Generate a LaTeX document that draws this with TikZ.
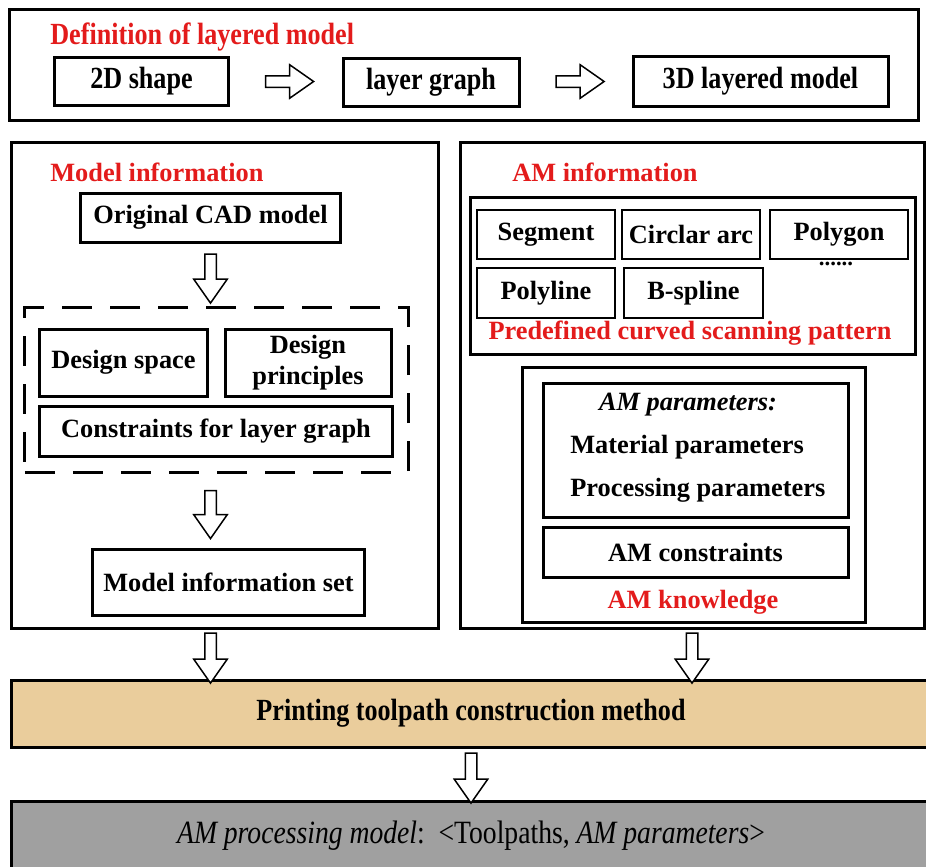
\documentclass[tikz,border=0pt]{standalone}
\usepackage{fontspec}
\setmainfont{Liberation Serif}
\newfontfamily\narrowfont[FakeStretch=0.85]{Liberation Serif}
\usetikzlibrary{shapes.arrows,calc}
\definecolor{titleRed}{HTML}{E31B1B}
\definecolor{methodTan}{HTML}{EACD9C}
\definecolor{modelGray}{HTML}{A0A0A0}

\begin{document}
\begin{tikzpicture}[x=0.2mm, y=-0.2mm,
  frame/.style={rectangle, draw, line width=0.6mm},
  box/.style={rectangle, draw, line width=0.6mm, align=center, font=\bfseries\fontsize{15}{17.5}\selectfont},
  wide/.style={rectangle, draw, line width=0.6mm, align=center, font=\narrowfont\bfseries\fontsize{17.5}{20}\selectfont},
  pat/.style={rectangle, draw, line width=0.35mm, minimum width=27.6mm, minimum height=9.8mm, font=\bfseries\fontsize{15}{17.5}\selectfont},
  title/.style={text=titleRed, inner sep=0pt, font=\bfseries\fontsize{15}{17.5}\selectfont},
  plain/.style={inner sep=0pt, font=\bfseries\fontsize{15}{17.5}\selectfont},
  harrow/.style={single arrow, draw, line width=0.3mm, fill=white, inner sep=1mm, single arrow head extend=2.2mm, single arrow tip angle=70, minimum width=0pt, minimum height=#1}
]
\useasboundingbox (0,0) rectangle (926,867);

% definition of layered model
\node[frame, minimum width=181.6mm, minimum height=22mm] (defbox) at (464,65) {};
\node[title, anchor=west, font=\narrowfont\bfseries\fontsize{17.5}{20}\selectfont] (deftitle) at (50,37) {Definition of layered model};
\node[wide, minimum width=34.6mm, minimum height=9.6mm] (shape2d) at (141.5,81) {2D shape};
\node[wide, minimum width=35.2mm, minimum height=9.6mm] (layergraph) at (431,82) {layer graph};
\node[wide, minimum width=51mm, minimum height=10mm] (layered3d) at (760.5,81) {3D layered model};
\node[harrow=9.6mm] (arrowA) at ($(shape2d.east)!0.5!(layergraph.west)$) {};
\node[harrow=9.6mm] (arrowB) at ($(layergraph.east)!0.5!(layered3d.west)$) {};

% model information
\node[frame, minimum width=85.2mm, minimum height=97mm] (modelbox) at (225,385.5) {};
\node[title, anchor=west] (modeltitle) at (50,172) {Model information};
\node[box, minimum width=51.8mm, minimum height=9.8mm] (cad) at (210.5,217.5) {Original CAD model};
\node[frame, dashed, dash pattern=on 6mm off 3.6mm, minimum width=76.6mm, minimum height=33mm] (dashbox) at (216.5,389.5) {};
\node[box, minimum width=33.4mm, minimum height=13.4mm] (space) at (123.5,362.5) {Design space};
\node[box, minimum width=33.2mm, minimum height=13.4mm] (principles) at (308,362.5) {Design\\principles};
\node[box, minimum width=70.4mm, minimum height=10mm] (constraints) at (216,431) {Constraints for layer graph};
\node[box, minimum width=54.2mm, minimum height=13.2mm] (infoset) at (228.5,582) {Model information set};
\node[harrow=9.8mm, rotate=-90] (arrowC) at ($(cad.south)!0.5!(cad.south |- dashbox.north)$) {};
\node[harrow=9.6mm, rotate=-90] (arrowD) at ($(cad.south |- dashbox.south)!0.5!(cad.south |- infoset.north)$) {};

% AM information
\node[frame, minimum width=92.8mm, minimum height=97mm] (aminfo) at (692,385.5) {};
\node[title, anchor=west] (amtitle) at (512,172) {AM information};
\node[frame, minimum width=89mm, minimum height=31.4mm] (patternbox) at (692.5,275.5) {};
\node[pat] (segment) at (546,234.5) {Segment};
\node[pat] (arc) at (691,234.5) {Circlar arc};
\node[pat] (polygon) at (839,234.5) {Polygon};
\node[inner sep=0pt, anchor=base, font=\bfseries\fontsize{13}{15}\selectfont] (dots) at (836,265) {......};
\node[pat, minimum height=10mm] (polyline) at (546,293) {Polyline};
\node[pat, minimum width=27.8mm, minimum height=10mm] (bspline) at (693.5,293) {B-spline};
\node[title] (patterntitle) at (690,333) {Predefined curved scanning pattern};
\node[frame, minimum width=68.6mm, minimum height=51mm] (knowbox) at (693.5,494.5) {};
\node[frame, minimum width=61mm, minimum height=26.8mm] (parambox) at (695.5,450) {};
\node[plain, font=\bfseries\itshape\fontsize{15}{17.5}\selectfont] (paramhead) at (688,405) {AM parameters:};
\node[plain, anchor=west] (material) at (570,447) {Material parameters};
\node[plain, anchor=west] (processing) at (570,490) {Processing parameters};
\node[box, minimum width=61mm, minimum height=10mm] (constrbox) at (695.5,552) {AM constraints};
\node[title] (knowtitle) at (693,602) {AM knowledge};

% construction method and result
\node[wide, fill=methodTan, minimum width=183.6mm, minimum height=13.4mm] (print) at (471,713.5) {Printing toolpath construction method};
\node[wide, fill=modelGray, font=\narrowfont\fontsize{18.5}{21}\selectfont, minimum width=183.6mm, minimum height=13.8mm] (procmodel) at (471,835.5) {{\itshape AM processing model}:\ \ <Toolpaths, {\itshape AM parameters}>};
\node[harrow=10mm, rotate=-90] (arrowE) at ($(cad.south |- modelbox.south)!0.5!(cad.south |- print.north)$) {};
\node[harrow=10mm, rotate=-90] (arrowF) at ($(aminfo.south)!0.5!(aminfo.south |- print.north)$) {};
\node[harrow=10mm, rotate=-90] (arrowG) at ($(print.south)!0.5!(procmodel.north)$) {};
\end{tikzpicture}
\end{document}
